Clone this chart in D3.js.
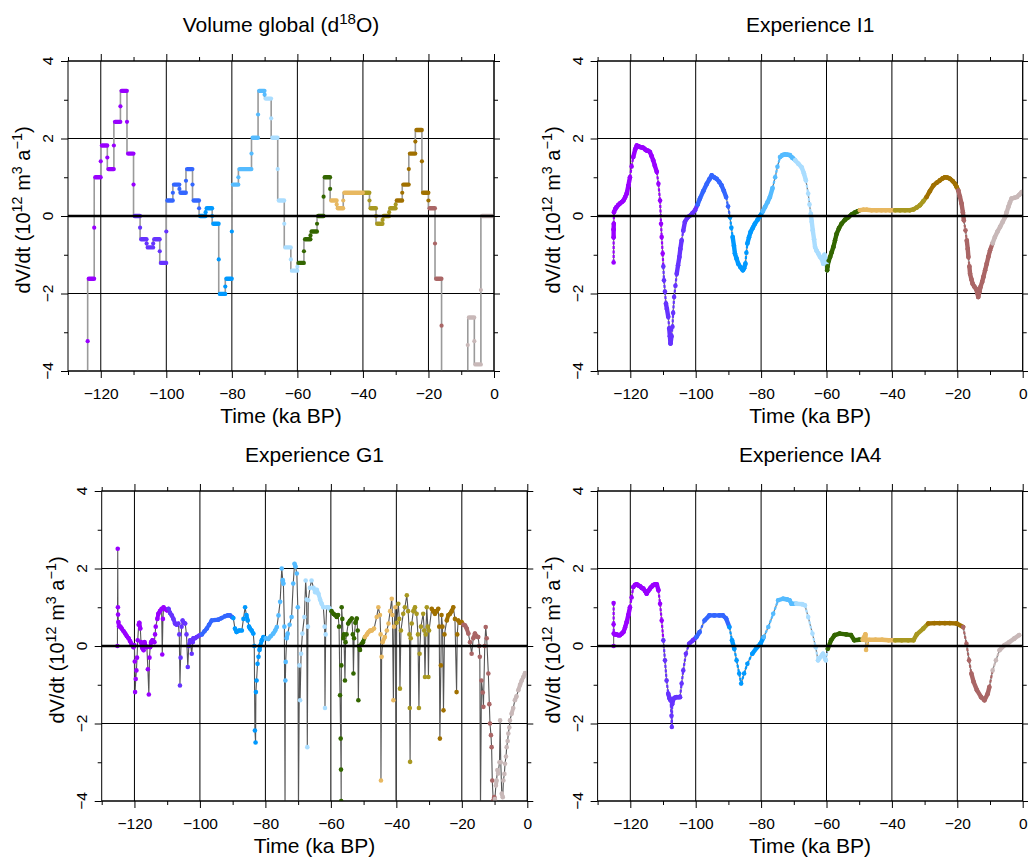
<!DOCTYPE html>
<html><head><meta charset="utf-8">
<script src="https://cdn.jsdelivr.net/npm/d3@7"></script>
<style>
body{margin:0;background:#fff}
svg{display:block}
text{font-family:"Liberation Sans",Arial,Helvetica,sans-serif;fill:#000}
</style>
</head><body>
<svg id="chart" width="1028" height="859"></svg>
<script>
// ---------- tick values ----------
const xTicks = [-120, -100, -80, -60, -40, -20, 0];
const xMinor = [-130, -110, -90, -70, -50, -30, -10];
const yTicks = [-4, -2, 0, 2, 4];
const yMinor = [-3, -1, 1, 3];

// ---------- colour segments (ka BP) ----------
const segBreaks = [-109.9, -99.9, -89.9, -79.9, -69.9, -59.9, -49.9, -39.9, -29.9, -19.9, -9.9];
const segColors = ["#9900ff", "#6633ff", "#3366ff", "#0099ff", "#55bbff", "#aaddff",
                   "#336600", "#e8b860", "#a89820", "#a07000", "#aa6666", "#c8b8b8"];

// ---------- panel 1 : Volume global (d18O), step series ----------
const volStart = [-126,-124,-122,-120,-118,-116,-114,-112,-110,-108,-106,-104,-102,-100,-98,-96,-94,-92,-90,-88,
  -86,-84,-82,-80,-78,-74,-72,-70,-68,-66,-64,-62,-60,-58,-56,-54,-52,-50,-48,-46,
  -40,-38,-36,-34,-32,-30,-28,-26,-24,-22,-20,-18,-16,-8,-6,-4];
const volLevel = [-4.9,-1.62,1.0,1.82,1.21,2.43,3.23,1.61,0.0,-0.6,-0.81,-0.6,-1.21,0.4,0.81,0.6,1.21,0.4,0.0,0.2,
  -0.2,-2.01,-1.62,0.81,1.21,2.02,3.23,3.03,2.02,0.4,-0.81,-1.41,-1.21,-0.6,-0.4,0.0,1.0,0.4,0.2,0.6,
  0.6,0.2,-0.2,0.0,0.2,0.4,0.81,1.61,2.22,0.6,0.2,-1.62,-5.0,-2.62,-3.83,0.0];
const volMid = [null,-3.23,-0.3,1.41,1.51,1.82,2.83,2.43,0.81,-0.3,-0.71,-0.71,-0.91,-0.4,0.6,0.7,0.91,0.81,0.2,0.1,
  0.0,-1.12,-1.82,-0.4,1.0,1.61,2.62,3.13,2.52,1.21,-0.2,-1.12,-1.31,-0.91,-0.5,-0.2,0.5,0.7,0.3,0.4,
  0.6,0.4,0.0,-0.1,0.1,0.3,0.6,1.21,1.92,1.41,0.4,-0.71,-2.83,-3.33,-3.23,-1.91];

// ---------- panel 2 : Experience I1 ----------
const expI1 = [[-125.1,-1.2],[-125.1,-0.55],[-125.1,-0.35],[-125.05,-0.2],[-125.0,0.1],[-124.6,0.18],[-124.2,0.23],
 [-123.7,0.28],[-123.2,0.32],[-122.6,0.36],[-122.1,0.40],[-121.6,0.48],[-121.1,0.58],[-120.6,0.78],[-120.1,1.0],
 [-119.6,1.28],[-119.1,1.52],[-118.5,1.72],[-118.0,1.82],[-117.5,1.8],[-117.0,1.78],[-116.5,1.77],[-116.0,1.76],
 [-115.5,1.72],[-115.0,1.69],[-114.5,1.68],[-114.0,1.65],[-113.5,1.55],[-113.0,1.44],[-112.5,1.3],[-111.9,1.14],
 [-111.4,0.83],[-110.9,0.40],[-110.6,-0.2],[-110.4,-0.54],[-110.1,-0.97],[-109.9,-1.3],[-109.7,-1.66],[-109.4,-1.95],
 [-109.1,-2.26],[-108.8,-2.4],[-108.4,-2.6],[-108.1,-2.9],[-107.9,-3.1],[-107.7,-3.29],[-107.4,-3.1],[-107.1,-2.86],
 [-106.9,-2.5],[-106.6,-2.09],[-106.2,-1.8],[-105.8,-1.49],[-105.4,-1.27],[-105.0,-1.06],[-104.7,-0.85],[-104.3,-0.63],
 [-103.8,-0.38],[-103.3,-0.15],[-102.6,-0.05],[-101.9,0.0],[-101.0,0.07],[-100.2,0.15],[-99.4,0.3],[-98.7,0.45],
 [-97.7,0.64],[-96.6,0.83],[-95.8,0.95],[-95.1,1.05],[-94.4,1.0],[-93.6,0.96],[-92.8,0.88],[-92.1,0.79],[-91.4,0.65],
 [-90.7,0.49],[-90.1,0.25],[-89.5,-0.03],[-89.1,-0.3],[-88.7,-0.54],[-88.3,-0.77],[-88.0,-0.97],[-87.5,-1.1],
 [-87.0,-1.23],[-86.3,-1.32],[-85.6,-1.40],[-85.2,-1.35],[-84.8,-1.23],[-84.5,-0.95],[-84.2,-0.71],[-83.7,-0.55],
 [-83.2,-0.41],[-82.5,-0.3],[-81.9,-0.2],[-81.1,-0.1],[-80.3,0.0],[-79.5,0.12],[-78.8,0.23],[-78.0,0.36],[-77.3,0.49],
 [-76.5,0.72],[-75.7,1.0],[-75.0,1.27],[-74.2,1.52],[-73.5,1.57],[-72.7,1.59],[-71.9,1.58],[-71.2,1.57],[-70.4,1.5],
 [-69.6,1.44],[-68.6,1.35],[-67.6,1.26],[-66.9,1.1],[-66.3,0.92],[-65.6,0.58],[-65.2,0.3],[-64.8,0.06],[-64.5,-0.15],
 [-64.2,-0.37],[-63.8,-0.6],[-63.5,-0.8],[-63.0,-0.9],[-62.5,-0.97],[-62.0,-1.05],[-61.5,-1.1],[-61.0,-1.23],
 [-60.6,-1.0],[-60.3,-1.1],[-60.0,-1.23],[-59.8,-1.40],[-59.7,-1.3],[-59.3,-1.15],[-58.9,-1.06],[-58.4,-0.93],
 [-57.9,-0.8],[-57.4,-0.63],[-56.9,-0.46],[-56.2,-0.32],[-55.4,-0.2],[-54.4,-0.1],[-53.3,-0.03],[-52.3,0.04],
 [-51.3,0.09],[-50.5,0.12],[-49.8,0.15],[-48.7,0.16],[-47.7,0.16],[-46.2,0.15],[-44.7,0.15],[-43.2,0.15],[-41.9,0.15],
 [-40.6,0.15],[-39.0,0.15],[-37.5,0.15],[-36.0,0.15],[-34.5,0.15],[-33.4,0.17],[-32.4,0.22],[-31.4,0.28],[-30.4,0.38],
 [-29.4,0.49],[-28.4,0.64],[-27.3,0.79],[-26.3,0.86],[-25.3,0.92],[-24.5,0.97],[-23.8,1.0],[-23.0,0.99],[-22.2,0.96],
 [-21.4,0.9],[-20.7,0.83],[-20.2,0.75],[-19.7,0.66],[-19.2,0.5],[-18.7,0.32],[-18.3,0.1],[-18.0,-0.11],[-17.5,-0.37],
 [-17.1,-0.63],[-16.8,-0.85],[-16.6,-1.06],[-16.3,-1.3],[-16.1,-1.49],[-15.7,-1.63],[-15.3,-1.75],[-14.8,-1.82],
 [-14.3,-1.88],[-13.9,-1.98],[-13.6,-2.09],[-13.2,-1.95],[-12.9,-1.83],[-12.4,-1.7],[-12.0,-1.57],[-11.5,-1.4],
 [-11.0,-1.23],[-10.5,-1.05],[-10.0,-0.89],[-9.2,-0.7],[-8.5,-0.54],[-7.7,-0.4],[-6.9,-0.28],[-6.1,-0.15],[-5.4,-0.03],
 [-4.9,0.1],[-4.4,0.23],[-3.9,0.35],[-3.4,0.45],[-2.6,0.47],[-1.8,0.49],[-1.0,0.55],[-0.3,0.62]];

// ---------- panel 3 : Experience G1 ----------
const expG1 = [[-125.2,0.0],[-125.1,2.51],[-125.05,1.0],[-125.0,0.81],[-124.9,0.62],[-124.7,0.51],[-124.3,0.5],
 [-123.9,0.45],[-123.3,0.38],[-122.8,0.32],[-122.3,0.25],[-121.8,0.2],[-121.3,0.12],[-120.8,0.04],[-120.3,-0.03],
 [-120.0,0.02],[-119.9,-0.4],[-119.8,-1.19],[-119.6,-0.85],[-119.4,-0.63],[-119.2,-0.3],[-119.0,0.15],[-118.7,0.55],
 [-118.5,0.6],[-118.2,0.45],[-118.0,0.1],[-117.6,-0.05],[-117.2,-0.11],[-116.9,0.1],[-116.6,0.0],[-116.2,-0.03],
 [-115.9,-0.6],[-115.6,-1.25],[-115.4,-0.3],[-115.2,-0.03],[-114.9,0.1],[-114.5,0.15],[-113.9,0.1],[-113.7,0.3],
 [-113.5,0.5],[-113.0,0.7],[-112.7,0.83],[-112.2,0.9],[-111.7,0.96],[-111.5,-0.22],[-111.3,0.7],[-111.1,1.0],
 [-110.6,0.95],[-110.1,0.92],[-109.6,0.96],[-109.1,0.85],[-108.6,0.79],[-108.1,0.7],[-107.6,0.58],[-107.1,0.55],
 [-106.6,0.58],[-106.3,0.3],[-106.1,-1.02],[-105.9,-0.3],[-105.6,0.5],[-105.3,0.66],[-104.9,0.6],[-104.5,0.58],
 [-104.1,0.3],[-103.7,-0.54],[-103.4,0.0],[-103.0,0.15],[-102.5,-0.2],[-102.2,0.1],[-102.0,0.2],[-101.5,0.2],
 [-101.0,0.23],[-100.2,0.27],[-99.4,0.3],[-98.6,0.38],[-97.9,0.45],[-97.2,0.55],[-96.4,0.66],[-95.4,0.67],[-94.4,0.68],
 [-93.4,0.72],[-92.3,0.77],[-91.5,0.79],[-90.8,0.79],[-90.2,0.75],[-89.8,0.72],[-89.3,0.45],[-88.8,0.36],[-88.0,0.4],
 [-87.2,0.4],[-86.7,0.7],[-86.2,1.0],[-85.8,0.8],[-85.4,0.66],[-85.0,0.5],[-84.7,0.45],[-84.2,0.4],[-83.7,0.32],
 [-83.4,0.0],[-83.2,-2.18],[-83.0,-2.49],[-82.9,-1.19],[-82.7,-0.89],[-82.4,-0.46],[-82.1,-0.28],[-81.8,-0.1],
 [-81.6,0.0],[-81.1,0.15],[-80.6,0.23],[-79.9,0.2],[-79.1,0.18],[-78.4,0.25],[-77.6,0.32],[-77.0,0.4],[-76.5,0.49],
 [-76.0,0.79],[-75.5,1.14],[-75.0,2.0],[-74.7,1.7],[-74.5,1.61],[-74.2,0.5],[-74.0,-4.3],[-73.9,-0.89],[-73.8,-0.41],
 [-73.5,0.2],[-73.2,0.32],[-72.6,0.55],[-72.0,0.75],[-71.5,1.61],[-71.1,2.12],[-70.8,2.05],[-70.4,1.87],[-70.1,1.0],
 [-69.9,-4.3],[-69.6,-0.5],[-69.4,-1.4],[-69.1,-0.2],[-68.7,0.32],[-68.1,0.75],[-67.7,1.69],[-67.4,1.2],[-67.2,-2.61],
 [-67.0,0.5],[-66.9,1.18],[-66.4,1.5],[-65.9,1.69],[-65.3,1.5],[-64.8,1.39],[-64.3,1.45],[-63.8,1.35],[-63.3,1.2],
 [-62.8,1.09],[-62.3,1.0],[-61.9,0.5],[-61.8,-1.6],[-61.6,0.3],[-61.3,1.0],[-60.8,1.0],[-60.3,0.96],[-59.8,0.9],
 [-59.2,0.83],[-58.7,0.8],[-58.2,0.75],[-57.8,0.8],[-57.5,0.5],[-57.2,-1.27],[-57.0,-2.39],[-56.9,-3.19],[-56.85,-4.0],
 [-56.8,-0.5],[-56.7,1.0],[-56.5,0.7],[-56.2,0.2],[-56.0,0.3],[-55.7,-0.89],[-55.5,0.1],[-55.2,0.3],[-54.7,0.58],
 [-54.2,0.65],[-53.6,0.71],[-53.3,0.3],[-53.1,-0.71],[-52.9,0.2],[-52.5,0.6],[-52.1,0.71],[-51.8,0.4],[-51.6,-1.4],
 [-51.4,0.0],[-51.1,-0.1],[-50.6,0.06],[-50.2,0.1],[-49.6,0.23],[-49.0,0.3],[-48.5,0.36],[-48.0,0.4],[-47.5,0.4],
 [-46.8,0.45],[-46.0,0.75],[-45.5,1.0],[-45.0,0.8],[-44.8,0.3],[-44.7,-3.47],[-44.5,-0.28],[-44.2,0.1],[-43.5,0.23],
 [-42.9,0.4],[-42.4,0.58],[-41.9,0.9],[-41.4,1.22],[-41.2,0.8],[-40.9,-1.4],[-40.7,0.5],[-40.3,1.0],[-40.1,-4.3],
 [-39.9,0.6],[-39.4,1.09],[-39.1,0.7],[-38.9,-1.1],[-38.6,0.4],[-37.9,0.83],[-37.4,1.0],[-36.8,1.31],[-36.4,0.9],
 [-36.0,0.3],[-35.9,-1.6],[-35.8,-2.99],[-35.6,0.2],[-35.3,0.58],[-34.8,0.9],[-34.3,1.0],[-33.8,0.83],[-33.4,0.3],
 [-33.1,-1.6],[-32.9,-0.2],[-32.5,0.5],[-31.8,0.83],[-31.5,0.4],[-31.25,-0.8],[-31.0,0.3],[-30.7,1.0],[-30.4,0.5],
 [-30.2,-0.8],[-30.0,0.4],[-29.2,0.96],[-28.7,0.9],[-28.2,0.83],[-27.7,0.9],[-27.2,0.96],[-26.9,0.5],[-26.7,-2.39],
 [-26.4,-0.5],[-26.2,0.8],[-25.9,0.5],[-25.6,-1.66],[-25.3,0.3],[-24.6,0.66],[-24.1,0.8],[-23.6,0.83],[-23.1,0.9],
 [-22.6,1.0],[-22.1,0.7],[-21.6,-1.19],[-21.4,0.3],[-21.1,0.66],[-20.6,0.6],[-20.1,0.62],[-19.5,0.55],[-19.0,0.53],
 [-18.5,0.45],[-18.0,0.32],[-17.5,0.1],[-17.0,-0.2],[-16.5,0.2],[-16.0,0.32],[-15.5,0.25],[-15.0,0.23],[-14.7,0.0],
 [-14.5,-0.28],[-14.3,-4.3],[-14.0,-0.89],[-13.6,-1.2],[-13.4,-1.57],[-13.0,0.0],[-12.7,0.49],[-12.4,0.2],
 [-11.9,-0.71],[-11.6,-1.5],[-11.4,-2.0],[-11.1,-2.3],[-10.9,-2.61],[-10.7,-3.47],[-10.4,-4.0],[-10.1,-3.9],
 [-9.9,-3.95],[-9.6,-3.6],[-9.4,-3.47],[-9.1,-3.2],[-8.9,-3.29],[-8.5,-3.0],[-8.3,-1.92],[-8.1,-3.0],[-7.8,-3.81],
 [-7.5,-3.9],[-7.3,-3.47],[-7.0,-3.3],[-6.8,-3.04],[-6.5,-2.85],[-6.3,-2.61],[-6.0,-2.45],[-5.8,-2.26],[-5.5,-2.1],
 [-5.3,-1.92],[-4.8,-1.75],[-4.3,-1.6],[-3.8,-1.4],[-3.3,-1.3],[-2.75,-1.14],[-2.2,-1.0],[-1.7,-0.89],[-1.2,-0.8],
 [-0.7,-0.7]];

// ---------- panel 4 : Experience IA4 ----------
const expIA4 = [[-125.1,0.0],[-125.1,1.11],[-125.1,0.56],[-125.05,0.32],[-124.7,0.3],[-124.2,0.3],[-123.7,0.28],
 [-123.2,0.28],[-122.6,0.32],[-122.1,0.36],[-121.6,0.48],[-121.1,0.62],[-120.6,0.8],[-120.1,1.0],[-119.6,1.25],
 [-119.1,1.52],[-118.5,1.58],[-118.0,1.59],[-117.5,1.56],[-117.0,1.54],[-116.5,1.5],[-116.0,1.48],[-115.5,1.42],
 [-115.0,1.35],[-114.5,1.42],[-114.0,1.48],[-113.5,1.53],[-113.0,1.57],[-112.4,1.59],[-111.9,1.59],[-111.4,1.44],
 [-110.9,1.09],[-110.4,0.66],[-109.9,0.15],[-109.4,-0.37],[-108.9,-0.89],[-108.4,-1.23],[-108.0,-1.35],[-107.7,-1.4],
 [-107.4,-1.8],[-107.3,-2.09],[-107.2,-1.5],[-106.8,-1.36],[-106.3,-1.33],[-105.8,-1.32],[-105.3,-1.32],[-104.8,-1.32],
 [-104.3,-0.97],[-103.8,-0.63],[-103.0,-0.2],[-102.0,0.06],[-100.8,0.15],[-99.8,0.23],[-98.8,0.36],[-97.3,0.66],
 [-95.8,0.79],[-94.3,0.79],[-92.7,0.79],[-91.7,0.79],[-90.7,0.71],[-89.7,0.49],[-88.9,0.15],[-88.2,-0.07],
 [-87.5,-0.37],[-86.7,-0.71],[-86.1,-0.97],[-85.2,-0.71],[-84.2,-0.46],[-82.7,-0.2],[-81.2,-0.03],[-80.2,0.06],
 [-79.2,0.23],[-77.8,0.49],[-76.3,0.83],[-74.8,1.18],[-73.3,1.22],[-72.0,1.2],[-71.3,1.18],[-70.7,1.09],[-69.2,1.09],
 [-67.5,1.08],[-66.6,1.05],[-65.6,0.75],[-64.3,0.32],[-63.3,-0.03],[-62.6,-0.37],[-61.1,-0.2],[-60.2,-0.37],
 [-59.6,-0.07],[-58.6,0.15],[-57.5,0.28],[-56.0,0.32],[-54.0,0.3],[-52.5,0.28],[-51.5,0.15],[-50.0,0.16],[-49.0,0.16],
 [-48.1,0.3],[-48.0,0.16],[-47.9,-0.1],[-47.0,0.16],[-45.0,0.16],[-43.0,0.16],[-41.0,0.15],[-39.0,0.15],[-37.0,0.15],
 [-35.0,0.15],[-33.4,0.15],[-32.4,0.3],[-30.4,0.45],[-28.9,0.58],[-27.0,0.59],[-25.4,0.59],[-23.8,0.59],[-22.3,0.59],
 [-20.2,0.58],[-18.2,0.49],[-17.2,0.06],[-16.4,-0.37],[-15.7,-0.71],[-15.0,-0.93],[-14.0,-1.14],[-12.7,-1.32],
 [-11.7,-1.4],[-10.7,-1.23],[-10.2,-1.06],[-9.2,-0.63],[-8.2,-0.37],[-7.1,-0.11],[-5.6,0.02],[-4.1,0.1],[-2.6,0.19],
 [-1.1,0.28]];

// ---------- labels ----------
const titleVol = [["Volume global (d"], ["18", true], ["O)"]];
const titleI1 = [["Experience I1"]];
const titleG1 = [["Experience G1"]];
const titleIA4 = [["Experience IA4"]];
const yLabel = [["dV/dt (10"], ["12", true], [" m"], ["3", true], [" a"], ["\u22121", true], [")"]];
const xLabel = "Time (ka BP)";

// ---------- drawing ----------
const svg = d3.select("#chart");
const colour = d3.scaleThreshold().domain(segBreaks).range(segColors);
const fmt = d => d < 0 ? "\u2212" + Math.abs(d) : String(d);

function rich(sel, parts) {
  let up = false;
  parts.forEach(([t, sup]) => {
    const ts = sel.append("tspan").text(t);
    if (sup) { ts.attr("font-size", "0.72em").attr("dy", up ? null : "-0.55em"); up = true; }
    else if (up) { ts.attr("dy", "0.396em"); up = false; }
  });
}

function panel(cfg, idx) {
  const {L, T, R, B} = cfg;
  const x = d3.scaleLinear().domain([-130, 0]).range([L, R]);
  const y = d3.scaleLinear().domain([-4, 4]).range([B, T]);
  const g = svg.append("g");

  // grid
  g.append("g").selectAll("line").data(xTicks).join("line")
    .attr("x1", d => x(d)).attr("x2", d => x(d)).attr("y1", T).attr("y2", B)
    .attr("stroke", "#000").attr("stroke-width", 1);
  g.append("g").selectAll("line").data(yTicks.filter(d => d !== 0)).join("line")
    .attr("x1", L).attr("x2", R).attr("y1", d => y(d)).attr("y2", d => y(d))
    .attr("stroke", "#000").attr("stroke-width", 1);

  // data
  const clipId = "clip" + idx;
  g.append("clipPath").attr("id", clipId).append("rect")
    .attr("x", L).attr("y", T).attr("width", R - L).attr("height", B - T);
  const dg = g.append("g").attr("clip-path", `url(#${clipId})`);
  cfg.draw(dg, x, y);

  // zero line
  g.append("line").attr("x1", L).attr("x2", R).attr("y1", y(0)).attr("y2", y(0))
    .attr("stroke", "#000").attr("stroke-width", 2.4);

  // frame
  g.append("rect").attr("x", L).attr("y", T).attr("width", R - L).attr("height", B - T)
    .attr("fill", "none").attr("stroke", "#000").attr("stroke-width", 1);

  // axes
  const style = a => { a.select(".domain").remove(); a.selectAll("line").attr("stroke", "#000"); };
  const bx = g.append("g").attr("transform", `translate(0,${B})`)
    .call(d3.axisBottom(x).tickValues(xTicks).tickSize(7).tickPadding(9.5).tickFormat(fmt)).call(style);
  bx.selectAll("text").attr("font-size", 15.5).attr("font-family", null).attr("fill", "#000");
  g.append("g").attr("transform", `translate(0,${B})`)
    .call(d3.axisBottom(x).tickValues(xMinor).tickSize(4).tickFormat("")).call(style);
  g.append("g").attr("transform", `translate(0,${T})`)
    .call(d3.axisTop(x).tickValues(xTicks).tickSize(7).tickFormat("")).call(style);
  g.append("g").attr("transform", `translate(0,${T})`)
    .call(d3.axisTop(x).tickValues(xMinor).tickSize(4).tickFormat("")).call(style);
  g.append("g").attr("transform", `translate(${L},0)`)
    .call(d3.axisLeft(y).tickValues(yTicks).tickSize(7).tickFormat("")).call(style);
  g.append("g").attr("transform", `translate(${L},0)`)
    .call(d3.axisLeft(y).tickValues(yMinor).tickSize(4).tickFormat("")).call(style);
  g.append("g").attr("transform", `translate(${R},0)`)
    .call(d3.axisRight(y).tickValues(yTicks).tickSize(6).tickFormat("")).call(style);
  g.append("g").attr("transform", `translate(${R},0)`)
    .call(d3.axisRight(y).tickValues(yMinor).tickSize(4).tickFormat("")).call(style);

  // rotated y tick labels
  g.append("g").selectAll("text").data(yTicks).join("text")
    .attr("transform", d => `translate(${L - 15},${y(d)}) rotate(-90)`)
    .attr("text-anchor", "middle").attr("font-size", 15.5).text(fmt);

  // titles
  const cx = (L + R) / 2;
  rich(g.append("text").attr("x", cx).attr("y", T - 29).attr("text-anchor", "middle").attr("font-size", 21), cfg.title);
  g.append("text").attr("x", cx).attr("y", B + 52).attr("text-anchor", "middle").attr("font-size", 21).text(xLabel);
  rich(g.append("text").attr("transform", `translate(${L - 38},${(T + B) / 2 - 6}) rotate(-90)`)
    .attr("text-anchor", "middle").attr("font-size", 20), yLabel);
}

// step series (panel 1)
function drawSteps(g, x, y) {
  const steps = volStart.map((s, i) => ({s, e: i + 1 < volStart.length ? volStart[i + 1] : 0, v: volLevel[i], m: volMid[i]}));
  const pts = steps.map(d => [d.s, d.v]).concat([[0, volLevel[volLevel.length - 1]]]);
  g.append("path").attr("d", d3.line().x(d => x(d[0])).y(d => y(d[1])).curve(d3.curveStepAfter)(pts))
    .attr("fill", "none").attr("stroke", "#9a9a9a").attr("stroke-width", 1.6);
  g.selectAll(null).data(steps).join("line")
    .attr("x1", d => x(d.s) + 1.2).attr("x2", d => x(d.e) - 0.2)
    .attr("y1", d => y(d.v)).attr("y2", d => y(d.v))
    .attr("stroke", d => colour((d.s + d.e) / 2)).attr("stroke-width", 4.4).attr("stroke-linecap", "round");
  g.selectAll(null).data(steps.filter(d => d.m !== null)).join("circle")
    .attr("cx", d => x(d.s)).attr("cy", d => y(d.m)).attr("r", 2.1)
    .attr("fill", d => colour(d.s));
}

// point series (panels 2-4)
function pointSeries(data, opt) {
  return function (g, x, y) {
    g.append("path").attr("d", d3.line().x(d => x(d[0])).y(d => y(d[1]))(data))
      .attr("fill", "none").attr("stroke", opt.lineColor).attr("stroke-width", opt.lineWidth);
    const pairs = d3.pairs(data);
    const flat = pairs.filter(([a, b]) => Math.abs(y(a[1]) - y(b[1])) < opt.flatPx);
    if (opt.steep) {
      const steep = pairs.filter(([a, b]) => Math.abs(y(a[1]) - y(b[1])) >= opt.flatPx && Math.abs(y(a[1]) - y(b[1])) < opt.steep);
      g.selectAll(null).data(steep).join("line")
        .attr("x1", d => x(d[0][0])).attr("x2", d => x(d[1][0]))
        .attr("y1", d => y(d[0][1])).attr("y2", d => y(d[1][1]))
        .attr("stroke", d => colour(d[0][0])).attr("stroke-width", 2.2).attr("stroke-dasharray", "3,1.5");
    }
    g.selectAll(null).data(flat).join("line")
      .attr("x1", d => x(d[0][0])).attr("x2", d => x(d[1][0]))
      .attr("y1", d => y(d[0][1])).attr("y2", d => y(d[1][1]))
      .attr("stroke", d => colour(d[0][0])).attr("stroke-width", opt.band).attr("stroke-linecap", "round");
    g.selectAll(null).data(data).join("circle")
      .attr("cx", d => x(d[0])).attr("cy", d => y(d[1])).attr("r", opt.r)
      .attr("fill", d => colour(d[0]));
  };
}

const panels = [
  {L: 68, T: 61, R: 494, B: 371, title: titleVol, draw: drawSteps},
  {L: 597.6, T: 61, R: 1022.7, B: 371, title: titleI1,
   draw: pointSeries(expI1, {lineColor: "#777", lineWidth: 1.2, flatPx: 9, band: 4.4, r: 2.3, steep: 40})},
  {L: 101.7, T: 491, R: 527.3, B: 801, title: titleG1,
   draw: pointSeries(expG1, {lineColor: "#555", lineWidth: 1.1, flatPx: 6, band: 4, r: 2.3})},
  {L: 597.6, T: 491, R: 1022.7, B: 801, title: titleIA4,
   draw: pointSeries(expIA4, {lineColor: "#777", lineWidth: 1.2, flatPx: 9, band: 4.4, r: 2.3, steep: 40})}
];
panels.forEach(panel);
</script>
</body></html>
